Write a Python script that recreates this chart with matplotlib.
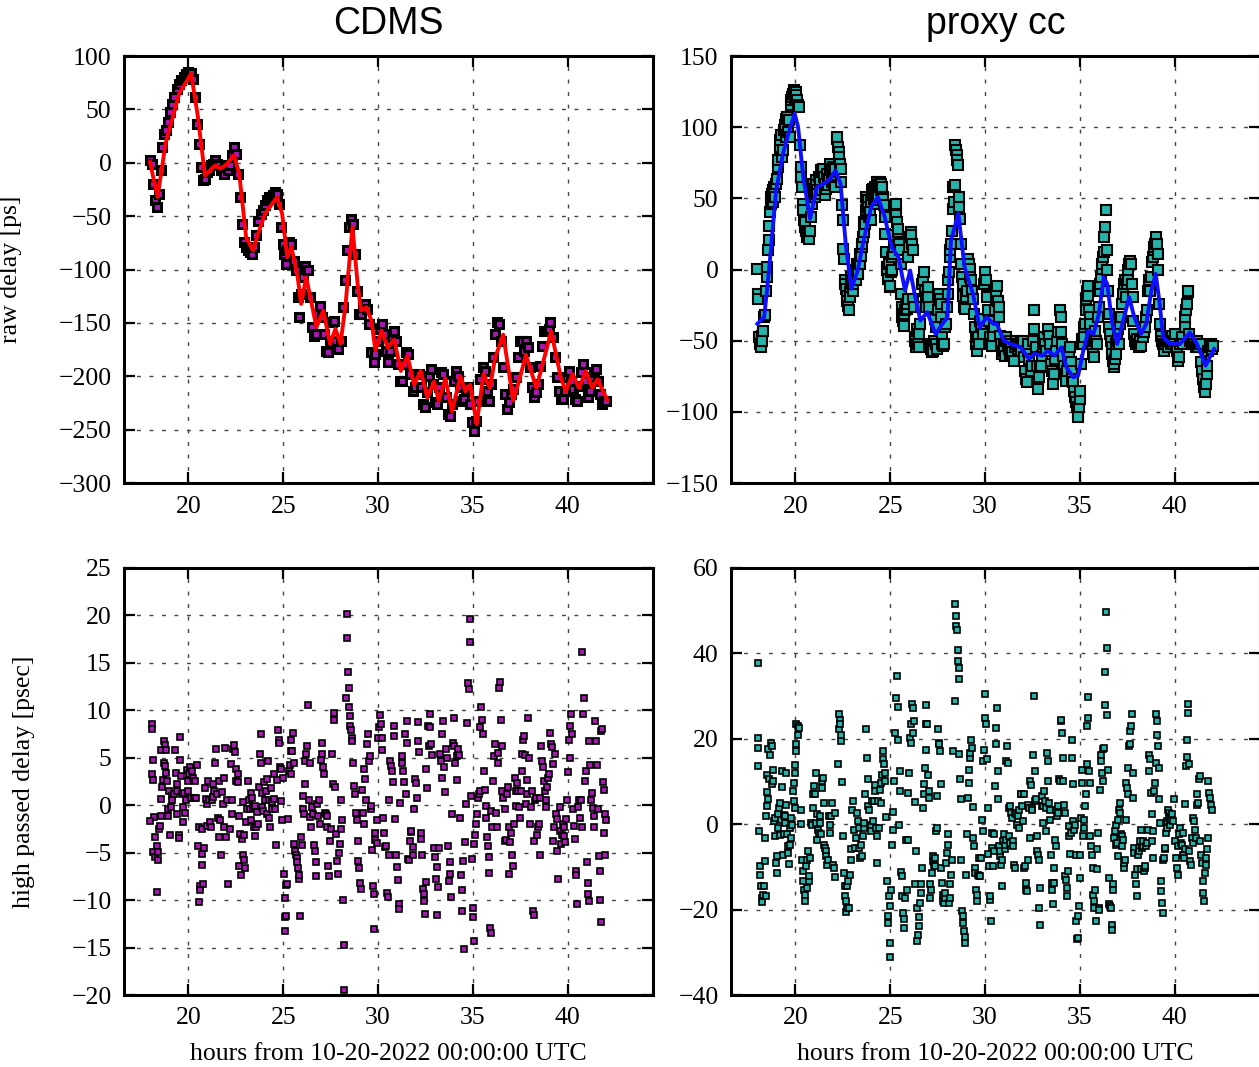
import numpy as np
import matplotlib
matplotlib.use('Agg')
import matplotlib.pyplot as plt

plt.rcParams['font.family'] = ['Liberation Serif', 'DejaVu Serif']
plt.rcParams['axes.unicode_minus'] = True

### data (hours, ps)
# CDMS raw delay samples
cdms_raw_pts = [
    (17.97, 2.2), (18.06, -0.9), (18.15, -19.7), (18.24, -35.3), (18.35, -41.6), (18.43, -29.1), (18.53, -7.2),
    (18.61, 14.7), (18.71, 27.2), (18.79, 30.3), (18.9, 38.1), (19.02, 47.5), (19.15, 55.3), (19.26, 61.6),
    (19.38, 69.4), (19.51, 74.1), (19.62, 77.2), (19.75, 80.3), (19.87, 82.8), (19.98, 85.0), (20.11, 84.1),
    (20.22, 78.8), (20.33, 61.6), (20.43, 36.6), (20.54, 17.8), (20.65, -4.1), (20.76, -16.6), (20.87, -15.0),
    (20.98, -8.8), (21.09, -7.2), (21.19, -2.5), (21.3, -0.9), (21.41, 2.2), (21.52, -0.9), (21.63, -2.5),
    (21.74, -7.2), (21.85, -10.3), (21.95, -4.1), (22.06, -7.2), (22.17, -2.5), (22.28, 6.9), (22.39, 14.7),
    (22.5, 8.4), (22.61, -10.3), (22.71, -32.2), (22.82, -57.2), (22.93, -74.4), (23.04, -79.1), (23.15, -82.2),
    (23.26, -83.8), (23.37, -85.3), (23.48, -79.1), (23.58, -68.1), (23.69, -54.1), (23.8, -47.8), (23.91, -44.7),
    (24.02, -40.0), (24.13, -35.3), (24.24, -32.2), (24.34, -32.2), (24.45, -30.6), (24.56, -27.5), (24.67, -29.1),
    (24.78, -38.4), (24.89, -60.3), (24.98, -75.9), (25.05, -85.3), (25.12, -94.7), (25.21, -82.2), (25.32, -74.4),
    (25.43, -75.9), (25.54, -91.6), (25.65, -100.9), (25.76, -125.9), (25.85, -144.7), (25.95, -122.8),
    (26.06, -107.2), (26.17, -96.3), (26.28, -100.9), (26.39, -125.9), (26.5, -154.1), (26.61, -161.9),
    (26.71, -160.3), (26.82, -141.6), (26.93, -133.8), (27.04, -144.7), (27.15, -160.3), (27.26, -175.9),
    (27.37, -177.5), (27.48, -166.6), (27.58, -149.4), (27.69, -147.8), (27.8, -166.6), (27.91, -174.4),
    (28.02, -166.6), (28.13, -135.3), (28.24, -110.3), (28.34, -82.2), (28.45, -60.3), (28.56, -52.5),
    (28.67, -57.2), (28.78, -85.3), (28.89, -119.7), (29.0, -141.6), (29.1, -141.6), (29.21, -135.3),
    (29.32, -132.2), (29.43, -136.9), (29.54, -150.9), (29.65, -177.5), (29.76, -186.9), (29.86, -179.1),
    (29.97, -166.6), (30.08, -155.6), (30.19, -150.9), (30.3, -160.3), (30.41, -175.9), (30.52, -186.9),
    (30.62, -175.9), (30.73, -163.4), (30.84, -157.2), (30.95, -166.6), (31.06, -188.4), (31.17, -204.1),
    (31.28, -204.1), (31.38, -188.4), (31.49, -177.5), (31.6, -179.1), (31.71, -197.8), (31.82, -213.4),
    (31.93, -210.3), (32.04, -197.8), (32.14, -197.8), (32.25, -210.3), (32.36, -225.9), (32.47, -229.1),
    (32.58, -215.0), (32.69, -199.4), (32.8, -193.1), (32.9, -207.2), (33.01, -224.4), (33.12, -225.9),
    (33.23, -210.3), (33.34, -196.3), (33.45, -197.8), (33.56, -219.7), (33.67, -235.3), (33.77, -236.9),
    (33.88, -225.9), (33.99, -204.1), (34.1, -194.7), (34.21, -199.4), (34.32, -210.3), (34.43, -222.8),
    (34.53, -221.3), (34.64, -211.9), (34.75, -210.3), (34.86, -225.9), (34.97, -243.1), (35.08, -250.9),
    (35.19, -241.6), (35.29, -222.8), (35.4, -202.5), (35.51, -191.6), (35.62, -194.7), (35.73, -213.4),
    (35.84, -222.8), (35.95, -207.2), (36.05, -182.2), (36.16, -160.3), (36.27, -149.4), (36.38, -150.9),
    (36.49, -166.6), (36.6, -191.6), (36.71, -216.6), (36.81, -230.6), (36.92, -224.4), (37.03, -216.6),
    (37.14, -211.9), (37.25, -200.9), (37.36, -182.2), (37.47, -166.6), (37.57, -166.6), (37.68, -175.9),
    (37.79, -166.6), (37.9, -172.8), (38.01, -191.6), (38.12, -210.3), (38.23, -219.7), (38.33, -215.0),
    (38.44, -207.2), (38.55, -190.0), (38.66, -171.3), (38.77, -157.2), (38.88, -157.2), (38.99, -155.6),
    (39.09, -149.4), (39.2, -163.4), (39.31, -182.2), (39.42, -200.9), (39.53, -213.4), (39.64, -221.3),
    (39.75, -221.3), (39.86, -213.4), (39.96, -200.9), (40.07, -194.7), (40.18, -204.1), (40.29, -211.9),
    (40.4, -221.3), (40.51, -222.8), (40.62, -208.8), (40.72, -196.3), (40.83, -188.4), (40.94, -204.1),
    (41.05, -219.7), (41.16, -213.4), (41.27, -200.9), (41.38, -196.3), (41.49, -193.1), (41.59, -204.1),
    (41.7, -216.6), (41.81, -225.9), (41.92, -222.8), (42.03, -222.8),
]

# CDMS smoothed (red) curve
cdms_fit_pts = [
    (17.97, 0.6), (18.37, -32.0), (18.79, 17.8), (19.51, 64.7), (20.14, 83.4), (20.5, 42.8), (20.87, -11.9),
    (21.41, -2.5), (21.68, -5.6), (21.95, -2.5), (22.4, 6.9), (22.68, -10.3), (23.04, -69.7), (23.4, -82.2),
    (23.67, -66.6), (24.04, -47.8), (24.67, -32.2), (24.94, -47.8), (25.21, -88.4), (25.43, -79.0),
    (25.76, -107.2), (25.94, -132.2), (26.21, -107.2), (26.75, -154.0), (27.11, -138.4), (27.47, -169.7),
    (27.75, -155.6), (28.02, -169.7), (28.29, -132.2), (28.38, -113.4), (28.65, -60.3), (28.92, -113.4),
    (29.1, -138.4), (29.38, -135.3), (29.65, -147.8), (29.86, -175.9), (30.19, -157.2), (30.5, -173.0),
    (30.85, -165.6), (31.2, -195.0), (31.55, -181.0), (31.9, -208.0), (32.25, -195.0), (32.6, -220.0),
    (32.95, -205.0), (33.2, -223.0), (33.55, -202.0), (33.9, -233.0), (34.34, -200.0), (34.6, -214.0),
    (34.86, -208.0), (35.2, -245.0), (35.56, -198.0), (35.9, -211.0), (36.17, -183.0), (36.6, -161.0),
    (37.13, -223.0), (37.47, -202.0), (37.8, -180.0), (38.35, -211.0), (39.13, -158.0), (39.65, -202.0),
    (39.9, -214.0), (40.26, -198.0), (40.6, -211.0), (40.96, -195.0), (41.3, -211.0), (41.57, -203.0),
    (42.09, -222.0),
]

# CDMS high passed delay
cdms_hp_pts = [
    (18.06, 8.6), (18.06, 8.0), (18.12, 4.8), (18.06, 3.3), (18.15, 2.7), (18.17, -1.2), (17.97, -1.7),
    (18.21, -3.4), (18.33, -4.3), (18.15, -4.9), (18.24, -5.5), (18.39, -5.8), (18.39, -4.9), (18.46, -2.5),
    (18.48, -2.2), (18.33, -9.1), (18.57, 0.7), (18.57, -1.1), (18.61, 1.9), (18.64, 2.7), (18.71, 6.8),
    (18.75, 6.3), (18.7, 4.5), (18.75, 4.1), (18.79, 3.4), (18.57, 5.8), (18.79, 5.8), (18.88, 2.6),
    (18.97, 1.5), (18.91, -0.4), (18.93, -1.1), (19.02, -3.1), (19.06, -0.2), (19.11, 1.0), (19.15, 0.5),
    (19.24, 1.2), (19.29, 5.8), (19.33, 3.4), (19.37, 2.2), (19.38, 1.5), (19.42, -0.9), (19.48, -3.1),
    (19.51, -3.5), (19.55, 7.2), (19.55, 4.8), (19.6, 3.1), (19.66, 1.2), (19.69, -0.2), (19.73, -1.8),
    (19.78, 1.3), (19.84, -0.8), (19.87, 0.6), (19.91, 3.7), (19.96, 1.5), (20.0, 2.6), (20.05, 3.3),
    (20.09, 4.0), (20.14, 0.8), (20.2, 3.6), (20.24, 2.9), (20.29, 0.8), (20.33, 2.6), (20.38, 0.8),
    (20.45, 4.2), (20.51, -4.3), (20.56, -2.3), (20.56, -10.2), (20.6, -8.5), (20.63, -8.9), (20.69, -2.5),
    (20.72, -6.3), (20.72, -5.1), (20.78, -8.3), (20.83, -4.5), (20.87, 1.8), (20.92, 0.7), (20.96, -2.2),
    (21.0, 0.1), (21.05, 2.6), (21.1, 0.6), (21.14, -1.8), (21.19, -2.3), (21.23, 0.5), (21.28, 0.9),
    (21.32, 2.2), (21.36, 1.5), (21.41, 4.5), (21.47, 5.9), (21.5, 1.2), (21.54, -1.3), (21.59, 2.6),
    (21.63, -3.4), (21.68, -1.6), (21.72, -5.2), (21.77, 1.4), (21.81, 0.1), (21.86, -2.3), (21.9, 2.9),
    (21.95, 6.0), (21.99, -3.3), (22.05, 0.5), (22.1, -8.3), (22.19, -2.5), (22.23, 4.3), (22.28, -0.9),
    (22.32, 0.5), (22.35, 5.9), (22.41, 6.3), (22.44, 5.6), (22.5, 3.8), (22.53, 2.6), (22.59, 3.3),
    (22.62, 2.5), (22.68, -1.1), (22.68, -6.4), (22.71, -3.0), (22.77, -7.4), (22.81, -3.6), (22.86, -5.2),
    (22.88, 0.3), (22.91, -5.8), (22.95, -3.1), (22.99, -6.6), (23.04, -1.8), (23.1, -0.4), (23.13, 2.6),
    (23.17, 0.5), (23.22, -0.4), (23.28, -1.6), (23.31, 1.3), (23.35, 0.8), (23.4, -0.2), (23.46, -2.3),
    (23.49, -3.2), (23.53, -0.1), (23.58, -2.3), (23.64, -0.7), (23.67, -2.0), (23.73, 1.9), (23.76, 5.4),
    (23.8, 7.5), (23.82, 4.4), (23.86, 1.3), (23.89, -0.2), (23.93, -0.6), (23.98, 2.4), (24.04, 0.5),
    (24.07, 1.5), (24.13, -0.9), (24.16, 2.8), (24.22, 4.7), (24.25, -1.3), (24.27, 0.5), (24.31, -2.3),
    (24.34, 1.8), (24.4, -0.4), (24.43, 0.3), (24.49, 3.3), (24.52, 0.7), (24.58, -0.4), (24.62, -4.2),
    (24.67, 2.7), (24.72, 7.9), (24.76, 6.9), (24.8, 6.6), (24.85, 4.0), (24.89, 3.8), (24.9, 0.4),
    (24.94, -1.6), (25.0, 2.9), (25.03, -7.3), (25.07, -9.8), (25.09, -11.8), (25.09, -13.3), (25.12, -11.7),
    (25.16, -8.4), (25.21, -8.3), (25.27, -1.5), (25.3, 3.6), (25.34, 4.2), (25.39, 5.7), (25.39, 6.9),
    (25.43, 3.3), (25.48, 5.7), (25.52, 7.6), (25.54, 4.5), (25.57, -4.1), (25.63, -4.8), (25.67, -5.2),
    (25.7, -5.6), (25.74, -6.0), (25.76, -6.6), (25.81, -7.8), (25.85, -7.4), (25.88, -11.7), (25.94, -3.3),
    (25.99, -4.2), (26.03, 1.0), (26.06, -0.4), (26.1, -0.9), (26.12, 4.7), (26.15, 2.2), (26.21, 5.4),
    (26.24, 6.2), (26.3, 10.6), (26.35, 0.5), (26.39, -1.2), (26.43, 4.5), (26.48, -2.3), (26.52, -0.2),
    (26.57, -0.9), (26.61, -4.2), (26.66, -4.8), (26.7, -6.0), (26.75, -7.5), (26.79, 0.1), (26.84, -1.1),
    (26.88, 0.5), (26.93, -2.0), (26.97, 4.8), (27.02, 6.6), (27.06, 5.4), (27.11, 4.0), (27.15, 3.3),
    (27.2, -0.8), (27.24, -0.9), (27.29, -2.3), (27.33, -1.1), (27.38, -6.4), (27.42, -7.5), (27.47, -3.8),
    (27.51, -2.5), (27.57, 5.4), (27.62, 2.2), (27.66, 9.7), (27.69, 9.0), (27.75, 1.9), (27.8, -3.0),
    (27.84, -5.9), (27.89, -7.3), (27.93, -5.0), (27.98, -4.1), (28.02, 0.5), (28.07, -2.5), (28.11, -1.6),
    (28.16, -10.0), (28.2, -14.7), (28.2, -19.5), (28.29, 11.3), (28.34, 20.2), (28.38, 17.6), (28.42, 14.0),
    (28.45, 12.4), (28.47, 10.3), (28.51, 9.4), (28.53, 8.3), (28.56, 7.9), (28.6, 7.1), (28.65, 6.8),
    (28.69, 4.4), (28.74, 2.0), (28.78, 1.2), (28.83, -0.8), (28.89, -1.6), (28.92, -3.8), (28.96, -5.9),
    (29.01, -6.6), (29.05, -8.2), (29.1, -8.8), (29.16, 1.6), (29.19, -0.8), (29.25, -2.0), (29.28, 3.8),
    (29.32, 2.8), (29.38, 0.5), (29.41, 6.4), (29.47, 7.5), (29.5, 4.7), (29.56, 5.2), (29.61, -0.4),
    (29.65, -0.1), (29.68, -4.7), (29.74, -8.5), (29.77, -9.4), (29.77, -13.0), (29.83, -2.9), (29.86, -3.7),
    (29.92, -4.0), (29.95, -1.6), (30.01, 7.1), (30.05, 8.2), (30.1, 9.5), (30.14, 8.6), (30.19, 5.8),
    (30.23, 7.1), (30.28, -1.3), (30.32, -2.9), (30.37, -4.4), (30.41, -4.3), (30.46, -9.2), (30.52, -9.7),
    (30.55, -5.2), (30.59, 0.5), (30.64, 4.7), (30.68, 4.1), (30.73, 3.6), (30.77, 2.4), (30.82, 8.3),
    (30.86, 7.3), (30.91, -1.5), (30.97, -5.2), (31.0, -6.5), (31.04, -7.9), (31.09, -10.4), (31.13, -10.9),
    (31.18, 0.2), (31.24, 5.2), (31.28, 4.5), (31.33, 3.6), (31.37, 2.5), (31.42, 7.5), (31.46, 1.2),
    (31.51, 8.9), (31.55, 6.6), (31.58, -5.7), (31.64, -5.8), (31.67, -3.8), (31.73, -2.8), (31.76, -2.7),
    (31.82, -4.4), (31.85, -5.2), (31.91, -0.4), (31.96, 2.8), (32.0, 2.3), (32.04, 0.8), (32.09, 6.8),
    (32.13, 8.8), (32.18, 5.6), (32.24, -2.9), (32.27, -3.6), (32.33, -5.2), (32.36, -8.8), (32.4, -9.4),
    (32.43, -10.1), (32.47, -11.5), (32.51, -8.1), (32.54, 3.8), (32.6, 1.8), (32.63, 8.4), (32.69, 6.2),
    (32.72, 8.2), (32.76, 9.6), (32.81, 6.4), (32.87, 5.3), (32.94, -4.5), (33.0, -5.5), (33.05, -7.8),
    (33.09, -11.6), (33.12, -6.5), (33.18, -8.6), (33.23, -4.5), (33.27, 5.4), (33.32, 4.7), (33.36, 7.5),
    (33.39, 2.9), (33.45, 8.9), (33.5, 4.0), (33.54, 1.4), (33.59, 5.9), (33.63, 5.0), (33.68, -4.3),
    (33.72, -8.0), (33.77, -7.3), (33.81, -6.0), (33.85, -9.7), (33.9, -0.9), (33.94, 6.6), (33.99, 9.2),
    (34.03, 6.2), (34.08, 4.5), (34.14, 5.2), (34.17, 2.7), (34.23, 5.9), (34.26, 5.3), (34.32, -1.3),
    (34.35, -7.4), (34.41, -8.9), (34.44, -11.2), (34.5, -5.9), (34.53, -15.1), (34.59, -3.9), (34.62, 0.1),
    (34.71, 8.7), (34.75, 12.9), (34.8, 12.2), (34.84, 19.6), (34.86, 17.2), (34.9, 1.0), (34.93, -5.7),
    (34.99, -10.8), (35.02, -11.8), (35.04, -14.3), (35.08, -4.1), (35.13, -3.1), (35.17, -2.0), (35.22, -0.9),
    (35.26, 0.8), (35.31, 1.2), (35.35, 1.5), (35.4, 8.2), (35.44, 10.3), (35.48, 9.0), (35.53, 7.5),
    (35.58, 3.6), (35.62, 1.6), (35.67, -0.1), (35.71, -1.3), (35.76, -3.4), (35.8, -4.3), (35.84, -5.5),
    (35.85, -7.1), (35.89, -12.9), (35.93, -13.5), (35.98, -0.6), (36.02, -2.3), (36.07, 2.6), (36.11, 5.2),
    (36.16, 6.4), (36.22, -0.8), (36.25, -2.3), (36.31, 4.5), (36.34, 5.5), (36.4, 12.4), (36.43, 13.0),
    (36.49, 9.0), (36.52, 6.2), (36.56, 1.5), (36.61, 0.8), (36.67, -0.4), (36.71, -3.8), (36.76, -3.7),
    (36.8, 1.2), (36.83, 1.9), (36.89, -2.3), (36.92, -7.3), (36.98, -3.9), (37.01, -2.9), (37.07, -5.2),
    (37.1, -6.4), (37.16, -2.0), (37.21, 2.9), (37.25, 1.5), (37.29, -0.1), (37.34, 2.3), (37.39, 1.5),
    (37.43, -0.2), (37.48, -1.3), (37.52, 1.5), (37.57, 3.6), (37.61, 5.4), (37.66, 6.9), (37.7, 7.3),
    (37.74, 5.3), (37.79, 0.1), (37.85, 1.2), (37.88, 2.7), (37.92, 9.2), (37.97, 5.0), (38.01, -2.0),
    (38.06, -0.2), (38.12, 1.5), (38.15, -11.1), (38.21, -11.6), (38.24, -3.8), (38.3, 0.5), (38.33, 0.8),
    (38.39, -3.1), (38.43, -2.3), (38.48, -2.0), (38.52, -5.2), (38.55, 0.8), (38.61, 6.2), (38.66, 4.7),
    (38.7, 4.0), (38.73, 2.6), (38.79, 1.5), (38.84, -0.2), (38.88, 0.5), (38.91, 1.9), (38.97, 2.9),
    (39.02, 3.3), (39.06, 7.6), (39.1, 6.4), (39.15, 6.1), (39.2, 4.3), (39.24, -3.8), (39.28, -2.3),
    (39.33, 5.4), (39.37, -0.9), (39.42, -1.5), (39.46, -4.8), (39.51, -7.8), (39.57, -0.2), (39.6, -2.7),
    (39.66, -4.1), (39.69, -3.1), (39.75, -2.0), (39.78, -3.2), (39.82, -2.3), (39.87, -3.9), (39.93, -1.5),
    (39.96, 0.6), (40.02, 3.5), (40.05, 6.9), (40.11, 8.3), (40.14, 5.0), (40.18, 9.6), (40.24, 7.5),
    (40.29, -0.4), (40.33, -2.2), (40.36, -3.6), (40.42, -6.9), (40.45, -7.4), (40.51, -10.4), (40.56, -0.2),
    (40.6, 0.5), (40.65, -1.3), (40.69, 0.5), (40.74, -2.3), (40.78, 16.1), (40.83, 9.6), (40.87, 11.3),
    (40.9, 2.6), (40.96, 3.6), (41.01, -6.0), (41.05, -8.2), (41.09, -9.4), (41.1, -10.1), (41.14, 6.8),
    (41.18, 4.2), (41.23, 0.5), (41.27, 1.3), (41.32, -0.3), (41.38, -1.1), (41.41, -2.3), (41.45, 8.9),
    (41.5, 6.8), (41.54, 4.2), (41.59, -0.4), (41.65, -5.3), (41.68, -6.9), (41.72, -10.0), (41.74, -12.3),
    (41.77, 7.8), (41.83, 8.0), (41.86, 2.5), (41.9, 1.6), (41.92, -2.9), (41.95, -0.9), (41.99, -5.2),
    (42.01, -1.6),
]

# proxy cc raw delay samples
proxy_raw_pts = [
    (17.99, 0.5), (18.03, -17.1), (18.05, -20.6), (18.08, -47.6), (18.14, -52.3), (18.17, -54.6), (18.21, -46.4),
    (18.26, -49.9), (18.3, -42.9), (18.35, -33.5), (18.41, -32.3), (18.44, -14.8), (18.48, -5.4), (18.51, 1.6),
    (18.55, 13.4), (18.59, 20.4), (18.62, 30.9), (18.66, 40.3), (18.69, 46.2), (18.73, 50.9), (18.77, 53.2),
    (18.8, 47.4), (18.84, 55.6), (18.89, 57.9), (18.94, 50.9), (18.98, 60.2), (19.02, 63.8), (19.07, 72.0),
    (19.1, 76.6), (19.16, 83.7), (19.21, 90.7), (19.25, 94.2), (19.3, 79.0), (19.34, 83.7), (19.37, 97.7),
    (19.43, 101.3), (19.48, 105.9), (19.52, 93.1), (19.55, 107.1), (19.61, 96.6), (19.66, 104.8), (19.7, 93.1),
    (19.75, 115.3), (19.79, 118.8), (19.84, 121.2), (19.87, 123.5), (19.93, 125.9), (19.96, 118.8),
    (20.02, 124.7), (20.05, 122.4), (20.09, 118.8), (20.14, 115.3), (20.2, 114.2), (20.23, 87.2), (20.27, 72.0),
    (20.3, 64.9), (20.34, 57.9), (20.38, 46.2), (20.41, 41.5), (20.45, 34.5), (20.48, 29.8), (20.52, 33.3),
    (20.56, 27.4), (20.59, 25.1), (20.63, 22.7), (20.68, 26.3), (20.73, 21.6), (20.77, 27.4), (20.81, 36.8),
    (20.86, 46.2), (20.91, 53.2), (20.95, 60.2), (20.98, 56.7), (21.02, 50.9), (21.06, 62.6), (21.09, 59.1),
    (21.13, 55.6), (21.16, 53.2), (21.22, 64.9), (21.27, 57.9), (21.31, 61.4), (21.36, 69.6), (21.4, 55.6),
    (21.45, 70.8), (21.49, 64.9), (21.54, 60.2), (21.58, 52.0), (21.63, 56.7), (21.67, 67.3), (21.72, 59.1),
    (21.75, 63.8), (21.81, 69.6), (21.84, 74.3), (21.9, 70.8), (21.93, 61.4), (21.99, 72.0), (22.02, 59.1),
    (22.06, 70.8), (22.11, 57.9), (22.17, 91.9), (22.2, 93.1), (22.24, 86.0), (22.27, 82.5), (22.31, 79.0),
    (22.34, 74.3), (22.38, 70.8), (22.42, 61.4), (22.45, 45.0), (22.49, 34.5), (22.52, 14.5), (22.56, 7.5),
    (22.6, -7.7), (22.63, -10.1), (22.67, -13.6), (22.7, -18.3), (22.74, -21.8), (22.77, -25.3), (22.81, -28.8),
    (22.85, -15.9), (22.88, -19.5), (22.92, -10.1), (22.95, -5.4), (22.99, -7.7), (23.03, -14.8), (23.06, -10.1),
    (23.1, -5.4), (23.13, -0.7), (23.17, -7.7), (23.21, -0.7), (23.24, 4.0), (23.28, 0.5), (23.31, -3.0),
    (23.35, 4.0), (23.38, 11.0), (23.42, 4.0), (23.46, 9.8), (23.49, 15.7), (23.53, 18.0), (23.56, 22.7),
    (23.6, 26.3), (23.63, 33.3), (23.67, 32.1), (23.71, 41.5), (23.74, 50.9), (23.78, 46.2), (23.81, 48.5),
    (23.85, 43.8), (23.89, 36.8), (23.92, 40.3), (23.96, 34.5), (23.99, 47.4), (24.03, 55.6), (24.06, 52.0),
    (24.1, 56.7), (24.14, 49.7), (24.17, 46.2), (24.21, 57.9), (24.24, 48.5), (24.28, 55.6), (24.31, 61.4),
    (24.35, 50.9), (24.39, 59.1), (24.44, 61.4), (24.49, 55.6), (24.53, 60.2), (24.56, 57.9), (24.6, 50.9),
    (24.64, 49.7), (24.67, 45.0), (24.71, 36.8), (24.74, 25.1), (24.78, 12.2), (24.82, 1.6), (24.85, -0.7),
    (24.89, -6.6), (24.92, 4.0), (24.96, -12.4), (25.0, -11.3), (25.03, -1.9), (25.07, 8.7), (25.11, -0.7),
    (25.14, 11.0), (25.18, 15.7), (25.21, 23.9), (25.25, 43.8), (25.29, 46.2), (25.32, 38.0), (25.36, 33.3),
    (25.39, 26.3), (25.43, 28.6), (25.46, 18.0), (25.5, 13.4), (25.54, 4.0), (25.57, -17.1), (25.61, -26.5),
    (25.64, -33.5), (25.68, -35.9), (25.71, -39.4), (25.75, -31.2), (25.78, -28.8), (25.82, -25.3),
    (25.86, -27.7), (25.89, -24.1), (25.93, -20.6), (25.96, 8.7), (26.0, 15.7), (26.04, 22.7), (26.07, 26.3),
    (26.11, 23.9), (26.14, 18.0), (26.18, 13.4), (26.21, -20.6), (26.25, -26.5), (26.29, -47.6), (26.32, -49.9),
    (26.36, -54.6), (26.39, -52.3), (26.43, -41.7), (26.46, -52.3), (26.5, -45.2), (26.54, -54.6),
    (26.59, -38.2), (26.64, -26.5), (26.68, -10.1), (26.73, -7.7), (26.79, -1.9), (26.82, -14.8), (26.86, -19.5),
    (26.91, -26.5), (26.97, -19.5), (27.0, -12.4), (27.04, -26.5), (27.07, -52.3), (27.13, -55.8), (27.18, -58.1),
    (27.22, -53.4), (27.25, -57.0), (27.3, -49.9), (27.36, -34.7), (27.39, -40.6), (27.43, -52.3), (27.48, -55.8),
    (27.54, -28.8), (27.57, -17.1), (27.61, -20.6), (27.65, -24.1), (27.68, -33.5), (27.72, -47.6),
    (27.75, -52.3), (27.79, -53.4), (27.84, -52.3), (27.9, -40.6), (27.93, -38.2), (27.97, -26.5), (28.02, -17.1),
    (28.06, -7.7), (28.1, -1.9), (28.13, 8.7), (28.17, 13.4), (28.2, 18.0), (28.24, 27.4), (28.29, 57.9),
    (28.33, 42.7), (28.37, 47.4), (28.4, 59.1), (28.43, 87.2), (28.47, 83.7), (28.51, 80.2), (28.54, 76.6),
    (28.58, 73.1), (28.61, 50.9), (28.65, 43.8), (28.68, 35.6), (28.72, 18.0), (28.75, 4.0), (28.79, -5.4),
    (28.83, -10.1), (28.86, -18.3), (28.9, -26.5), (28.93, -27.7), (28.97, -19.5), (29.04, -14.8), (29.09, 7.5),
    (29.15, 4.0), (29.18, 0.5), (29.22, -5.4), (29.27, -7.7), (29.33, -14.8), (29.36, -20.6), (29.41, -31.2),
    (29.45, -40.6), (29.51, -47.6), (29.54, -52.3), (29.58, -57.0), (29.63, -47.6), (29.68, -52.3),
    (29.75, -35.9), (29.81, -40.6), (29.87, -45.2), (29.9, -34.7), (29.96, -10.1), (30.01, -1.9), (30.04, -7.7),
    (30.08, -18.3), (30.12, -19.5), (30.17, -28.8), (30.22, -35.9), (30.26, -47.6), (30.3, -52.3), (30.35, -53.4),
    (30.4, -42.9), (30.44, -46.4), (30.49, -40.6), (30.53, -28.8), (30.56, -20.6), (30.6, -14.8), (30.64, -11.3),
    (30.67, -21.8), (30.71, -26.5), (30.74, -33.5), (30.8, -46.4), (30.85, -52.3), (30.89, -59.3), (30.94, -57.0),
    (30.98, -53.4), (31.03, -60.5), (31.08, -49.9), (31.13, -47.6), (31.19, -52.3), (31.24, -55.8),
    (31.3, -59.3), (31.33, -49.9), (31.39, -52.3), (31.44, -58.1), (31.51, -64.0), (31.57, -54.6), (31.62, -49.9),
    (31.69, -52.3), (31.75, -55.8), (31.8, -53.4), (31.87, -51.1), (31.92, -57.0), (31.98, -49.9), (32.03, -61.6),
    (32.09, -71.0), (32.14, -76.9), (32.19, -79.2), (32.24, -57.0), (32.28, -52.3), (32.34, -62.8), (32.41, -71.0),
    (32.46, -67.5), (32.52, -49.9), (32.57, -28.8), (32.6, -41.7), (32.66, -54.6), (32.72, -67.5), (32.77, -78.1),
    (32.8, -83.9), (32.86, -75.7), (32.91, -68.7), (32.95, -67.5), (33.0, -60.5), (33.06, -54.6), (33.12, -47.6),
    (33.18, -52.3), (33.23, -57.0), (33.3, -41.7), (33.36, -46.4), (33.41, -52.3), (33.48, -66.3), (33.54, -71.0),
    (33.59, -80.4), (33.64, -73.4), (33.7, -62.8), (33.75, -57.0), (33.8, -49.9), (33.86, -44.1), (33.93, -28.8),
    (33.98, -33.5), (34.02, -44.1), (34.06, -52.3), (34.11, -60.5), (34.16, -67.5), (34.2, -73.4), (34.25, -78.1),
    (34.31, -71.0), (34.36, -64.0), (34.41, -58.1), (34.47, -54.6), (34.52, -65.2), (34.56, -71.0), (34.59, -76.9),
    (34.65, -79.2), (34.7, -85.1), (34.74, -89.8), (34.79, -93.3), (34.84, -96.8), (34.88, -101.5),
    (34.91, -103.8), (34.95, -96.8), (34.99, -90.9), (35.02, -85.1), (35.06, -66.3), (35.09, -52.3),
    (35.13, -48.8), (35.17, -52.3), (35.2, -47.6), (35.24, -40.6), (35.27, -38.2), (35.31, -28.8), (35.34, -20.6),
    (35.38, -14.8), (35.42, -11.3), (35.45, -18.3), (35.49, -28.8), (35.52, -33.5), (35.56, -38.2), (35.59, -45.2),
    (35.63, -52.3), (35.68, -59.3), (35.72, -61.6), (35.77, -49.9), (35.81, -42.9), (35.86, -49.9), (35.92, -52.3),
    (35.95, -33.5), (36.0, -26.5), (36.04, -14.8), (36.08, -10.1), (36.11, -5.4), (36.15, 0.5), (36.19, 4.0),
    (36.22, 8.7), (36.26, 12.2), (36.29, 22.7), (36.33, 29.8), (36.37, 41.5), (36.42, 13.4), (36.45, -0.7),
    (36.49, -14.8), (36.53, -31.2), (36.56, -40.6), (36.6, -45.2), (36.63, -49.9), (36.67, -54.6), (36.71, -59.3),
    (36.74, -64.0), (36.78, -68.7), (36.81, -66.3), (36.85, -62.8), (36.88, -59.3), (36.92, -52.3),
    (36.96, -49.9), (37.01, -41.7), (37.06, -52.3), (37.12, -38.2), (37.17, -33.5), (37.24, -24.1), (37.3, -17.1),
    (37.35, -10.1), (37.38, -7.7), (37.44, -19.5), (37.49, -10.1), (37.53, -7.7), (37.56, -0.7), (37.6, 4.0),
    (37.63, 6.3), (37.69, 4.0), (37.73, -10.1), (37.78, -19.5), (37.82, -35.9), (37.87, -45.2), (37.92, -49.9),
    (37.98, -52.3), (38.03, -48.8), (38.08, -52.3), (38.14, -54.6), (38.19, -49.9), (38.24, -53.4),
    (38.31, -47.6), (38.37, -44.1), (38.42, -40.6), (38.5, -33.5), (38.55, -28.8), (38.6, -14.8), (38.64, -10.1),
    (38.67, -7.7), (38.71, -14.8), (38.76, -5.4), (38.82, 5.2), (38.85, 8.7), (38.89, 13.4), (38.92, 15.7),
    (38.96, 18.0), (39.0, 21.6), (39.03, 22.7), (39.07, 18.0), (39.1, 11.0), (39.14, -0.7), (39.18, -24.1),
    (39.21, -38.2), (39.27, -46.4), (39.32, -49.9), (39.39, -52.3), (39.45, -57.0), (39.5, -52.3), (39.57, -49.9),
    (39.63, -54.6), (39.68, -49.9), (39.75, -47.6), (39.8, -52.3), (39.86, -46.4), (39.93, -52.3), (39.98, -49.9),
    (40.04, -45.2), (40.09, -54.6), (40.14, -57.0), (40.19, -64.0), (40.25, -61.6), (40.3, -52.3), (40.36, -49.9),
    (40.41, -47.6), (40.46, -52.3), (40.52, -40.6), (40.57, -33.5), (40.61, -28.8), (40.64, -24.1), (40.68, -15.9),
    (40.71, -14.8), (40.75, -45.2), (40.82, -49.9), (40.89, -52.3), (40.96, -49.9), (41.03, -52.3), (41.1, -54.6),
    (41.18, -49.9), (41.25, -54.6), (41.32, -52.3), (41.4, -65.2), (41.45, -71.0), (41.5, -76.9), (41.54, -82.7),
    (41.59, -86.3), (41.64, -80.4), (41.68, -73.4), (41.71, -67.5), (41.77, -57.0), (41.84, -54.6), (41.89, -52.3),
    (41.96, -55.8), (42.04, -53.4),
]

# proxy cc smoothed (blue) curve
proxy_fit_pts = [
    (17.99, -38.2), (18.35, -33.5), (18.62, 1.6), (18.98, 55.6), (19.34, 81.3), (19.7, 98.9), (19.96, 109.5),
    (20.14, 100.1), (20.41, 64.9), (20.77, 35.6), (21.13, 57.9), (21.49, 60.2), (21.84, 63.8), (22.11, 69.6),
    (22.38, 60.2), (22.65, 18.0), (22.95, -13.6), (23.28, -0.7), (23.63, 22.7), (23.99, 43.8), (24.35, 50.9),
    (24.71, 36.8), (25.07, 15.7), (25.43, 8.7), (25.78, -14.8), (26.05, -0.7), (26.32, -19.5), (26.59, -35.9),
    (26.95, -30.0), (27.39, -45.3), (27.75, -38.2), (28.02, -33.5), (28.2, 20.4), (28.59, 39.1), (28.92, 1.6),
    (29.36, -17.1), (29.72, -40.6), (30.08, -33.5), (30.44, -38.2), (30.62, -38.2), (30.98, -49.9),
    (31.33, -52.3), (31.87, -54.6), (32.32, -62.8), (32.59, -59.3), (33.03, -60.5), (33.3, -57.0), (33.66, -60.5),
    (34.02, -54.6), (34.29, -68.7), (34.65, -75.7), (34.91, -74.5), (35.18, -57.0), (35.45, -42.9),
    (35.72, -45.2), (36.0, -31.2), (36.26, -5.4), (36.44, -10.1), (36.71, -38.2), (36.97, -52.3), (37.24, -38.2),
    (37.6, -19.5), (37.87, -33.5), (38.23, -45.2), (38.5, -38.2), (38.77, -14.8), (39.0, -3.0), (39.21, -24.1),
    (39.39, -47.6), (39.75, -52.3), (40.29, -52.3), (40.79, -44.1), (41.18, -52.3), (41.63, -67.5),
    (42.08, -55.8),
]

# proxy cc high passed delay
proxy_hp_pts = [
    (18.0, 37.8), (18.05, 20.2), (18.05, 17.9), (18.05, 13.6), (18.08, -1.5), (18.14, -9.8), (18.14, -11.8),
    (18.17, -14.5), (18.21, -17.3), (18.26, -18.2), (18.3, -16.5), (18.35, -14.5), (18.39, -8.7), (18.41, -3.2),
    (18.44, -16.9), (18.46, 1.9), (18.48, 4.2), (18.52, 11.6), (18.52, 7.6), (18.55, 6.0), (18.57, 17.5),
    (18.62, 10.5), (18.66, 16.1), (18.71, 19.1), (18.75, 18.3), (18.77, 9.3), (18.8, 12.8), (18.84, 10.1),
    (18.89, 0.7), (18.93, -2.8), (18.94, 1.5), (18.98, -9.1), (19.02, -11.4), (19.03, -7.5), (19.07, -0.9),
    (19.1, 2.3), (19.12, 3.8), (19.16, 5.0), (19.21, -2.6), (19.25, 1.1), (19.28, 12.4), (19.3, 8.7),
    (19.34, -7.1), (19.37, 2.1), (19.41, -2.4), (19.43, 0.3), (19.46, 1.9), (19.5, 4.6), (19.52, 12.0),
    (19.55, -2.4), (19.59, -6.7), (19.62, -5.2), (19.66, -9.3), (19.7, -4.9), (19.73, -0.9), (19.75, 1.5),
    (19.79, -3.2), (19.82, -0.1), (19.87, 7.7), (19.91, 5.4), (19.93, 9.7), (19.96, 11.9), (19.98, 13.8),
    (20.02, 17.1), (20.04, 18.7), (20.05, 23.5), (20.11, 23.0), (20.14, 20.9), (20.2, 22.6), (19.96, 3.8),
    (20.27, 3.4), (20.29, 0.1), (20.32, -8.5), (20.38, -10.9), (20.41, -13.4), (20.45, -15.3), (20.48, -16.5),
    (20.52, -18.0), (20.56, -9.8), (20.59, -8.3), (20.63, -14.9), (20.66, -6.3), (20.7, -13.4), (20.73, -12.2),
    (20.77, -7.9), (20.81, 0.3), (20.86, -0.1), (20.91, 7.0), (20.95, 3.8), (20.98, 8.9), (21.02, 7.0),
    (21.06, 11.9), (21.09, 0.3), (21.13, -3.6), (21.16, 2.3), (21.2, -1.3), (21.24, -2.0), (21.27, 0.3),
    (21.31, 1.9), (21.34, -2.4), (21.38, 8.5), (21.41, 10.1), (21.45, 10.9), (21.49, 5.0), (21.52, -4.8),
    (21.56, -5.5), (21.59, -6.3), (21.63, -7.5), (21.66, -9.5), (21.7, -8.3), (21.75, 1.9), (21.81, -0.1),
    (21.84, -2.0), (21.88, 1.9), (21.93, 5.0), (21.99, -9.5), (22.02, -10.2), (22.08, -12.4), (22.11, 2.7),
    (22.24, 14.1), (22.29, 22.2), (22.29, 25.7), (22.33, 24.5), (22.35, 23.4), (22.38, 21.0), (22.42, 19.5),
    (22.47, 9.8), (22.52, -2.8), (22.56, -11.4), (22.6, -14.5), (22.63, -16.9), (22.65, -18.0), (22.68, -20.5),
    (22.7, -19.6), (22.74, -14.5), (22.77, -13.4), (22.83, -19.6), (22.88, -11.8), (22.92, -8.3), (22.95, -5.9),
    (23.0, 3.4), (23.06, 5.4), (23.1, -1.3), (23.15, -5.5), (23.19, -3.2), (23.24, 2.7), (23.28, 0.7),
    (23.33, -0.9), (23.37, -5.5), (23.42, -7.9), (23.46, -4.8), (23.49, -7.5), (23.55, -2.8), (23.6, -0.9),
    (23.63, 0.3), (23.67, 7.0), (23.72, 22.4), (23.78, 15.5), (23.81, 4.2), (23.85, 10.5), (23.9, 3.4),
    (23.96, -0.1), (23.99, -1.5), (24.03, 5.4), (24.08, 0.7), (24.14, 5.4), (24.17, 9.1), (24.21, 7.7),
    (24.24, -0.9), (24.28, -9.1), (24.31, -2.8), (24.35, 5.4), (24.39, -0.9), (24.44, 8.1), (24.49, 5.0),
    (24.53, 9.7), (24.56, 11.6), (24.6, 17.1), (24.64, 15.2), (24.67, 14.0), (24.71, 12.0), (24.74, 10.1),
    (24.8, 1.6), (24.83, -13.4), (24.87, -21.6), (24.89, -23.1), (24.94, -16.9), (24.98, -27.8), (24.98, -31.2),
    (25.01, -19.2), (25.05, -15.3), (25.09, -4.8), (25.12, -1.3), (25.16, 2.9), (25.19, 10.2), (25.25, 21.4),
    (25.3, 29.6), (25.34, 34.8), (25.39, 27.5), (25.43, 19.8), (25.46, -0.1), (25.5, 12.4), (25.52, 7.7),
    (25.57, -11.2), (25.6, -12.2), (25.64, -16.9), (25.68, -20.8), (25.71, -22.3), (25.75, -24.3),
    (25.78, -17.3), (25.82, -3.6), (25.87, -15.3), (25.91, -3.6), (25.96, 7.3), (26.0, 12.0), (26.04, 20.2),
    (26.07, 19.1), (26.11, 23.4), (26.14, 28.2), (26.18, 27.3), (26.21, 21.4), (26.25, 24.1), (26.29, 5.2),
    (26.32, -14.0), (26.36, -6.3), (26.39, -19.6), (26.43, -27.4), (26.46, -25.9), (26.5, -23.9), (26.54, -21.8),
    (26.57, -18.4), (26.61, -16.1), (26.64, -14.1), (26.68, -10.2), (26.73, 3.8), (26.77, 7.0), (26.8, 9.3),
    (26.84, 13.2), (26.86, 17.3), (26.88, 27.9), (26.91, 23.4), (26.95, 23.4), (26.98, 11.6), (27.02, 6.2),
    (27.05, 7.7), (27.09, -14.1), (27.12, -17.3), (27.16, -15.3), (27.2, -11.4), (27.23, -8.7), (27.27, -7.5),
    (27.3, -9.5), (27.34, -7.9), (27.38, -9.8), (27.41, -1.6), (27.45, -0.9), (27.48, 6.6), (27.52, 22.2),
    (27.55, 19.1), (27.59, 18.7), (27.63, 17.1), (27.66, 9.5), (27.7, -10.2), (27.73, -13.7), (27.77, -16.5),
    (27.8, -18.0), (27.84, -18.4), (27.88, -17.4), (27.91, -16.1), (27.95, -9.1), (27.98, -6.7), (28.02, -4.8),
    (28.06, -2.4), (28.09, -18.4), (28.13, -17.3), (28.16, -14.0), (28.2, -11.8), (28.23, -8.3), (28.29, 17.1),
    (28.41, 28.8), (28.43, 51.5), (28.45, 48.7), (28.48, 46.4), (28.52, 45.4), (28.56, 40.9), (28.59, 38.2),
    (28.61, 36.6), (28.63, 34.1), (28.64, 16.5), (28.68, 10.5), (28.72, 5.8), (28.75, -8.5), (28.79, -20.4),
    (28.83, -21.6), (28.86, -23.1), (28.9, -25.1), (28.93, -26.5), (28.95, -27.8), (29.0, -11.8), (29.04, -2.4),
    (29.09, 6.2), (29.13, 9.7), (29.16, 12.8), (29.2, 15.5), (29.23, 16.7), (29.27, 19.8), (29.3, 17.9),
    (29.34, 4.0), (29.38, -3.2), (29.41, -5.2), (29.45, -10.2), (29.48, -11.4), (29.52, -15.3), (29.56, -18.0),
    (29.59, -16.5), (29.63, -11.8), (29.66, -12.2), (29.7, -7.9), (29.75, -12.2), (29.81, -7.9), (29.84, 1.1),
    (29.88, -1.6), (29.91, 14.8), (29.95, 17.3), (29.99, 24.9), (30.02, 30.5), (30.06, 23.4), (30.09, 15.2),
    (30.13, 3.8), (30.17, -7.0), (30.2, -9.8), (30.24, -17.7), (30.27, -16.7), (30.31, -22.7), (30.34, -2.0),
    (30.38, -5.5), (30.41, -9.8), (30.45, -6.3), (30.49, -2.3), (30.52, 8.9), (30.56, 18.7), (30.59, 22.6),
    (30.63, 27.3), (30.66, 12.4), (30.7, 5.8), (30.74, -5.2), (30.77, -7.5), (30.81, -6.3), (30.84, -9.5),
    (30.88, -14.5), (30.91, -8.3), (30.95, -4.0), (30.99, -2.4), (31.03, -5.9), (31.06, -4.8), (31.1, -3.6),
    (31.13, 14.8), (31.17, 18.3), (31.2, 14.4), (31.24, 3.8), (31.27, -2.8), (31.31, -4.4), (31.34, 4.2),
    (31.38, 2.7), (31.41, 1.5), (31.45, -4.0), (31.49, -5.2), (31.52, -9.5), (31.56, -10.2), (31.6, 2.7),
    (31.65, 2.3), (31.69, -0.1), (31.74, 1.9), (31.78, -0.9), (31.81, 3.4), (31.87, 7.1), (31.91, 7.0),
    (31.96, 4.2), (32.0, 0.7), (32.03, 7.0), (32.07, -10.2), (32.1, -9.8), (32.14, -13.7), (32.17, -15.3),
    (32.21, -15.7), (32.24, -8.3), (32.28, 4.6), (32.31, 3.8), (32.35, -3.2), (32.38, 10.1), (32.42, 9.1),
    (32.46, 3.8), (32.49, 3.4), (32.54, 16.3), (32.58, 30.0), (32.61, 12.4), (32.65, 5.4), (32.69, 5.8),
    (32.72, -2.8), (32.76, -6.3), (32.79, -7.1), (32.83, -8.3), (32.87, -19.6), (32.91, -23.5), (32.92, -14.9),
    (32.98, 4.2), (33.01, 6.6), (33.05, 0.3), (33.08, 4.2), (33.12, 7.7), (33.15, 5.4), (33.19, -1.6),
    (33.22, 3.8), (33.27, 16.7), (33.3, 14.8), (33.34, 10.1), (33.37, 5.0), (33.41, 3.4), (33.45, 1.1),
    (33.48, -7.1), (33.52, -13.7), (33.55, -15.3), (33.59, -18.8), (33.63, -13.7), (33.66, -10.2), (33.7, -3.6),
    (33.73, -5.2), (33.76, 3.4), (33.8, 1.9), (33.84, 2.7), (33.87, 4.2), (33.91, 10.5), (33.94, 10.1),
    (33.98, 24.1), (34.01, 24.5), (34.05, 21.4), (34.09, 15.5), (34.12, 10.1), (34.16, 4.6), (34.2, 2.7),
    (34.23, -12.2), (34.27, -13.0), (34.3, -14.9), (34.34, -16.9), (34.38, -11.0), (34.41, -0.5), (34.45, -2.8),
    (34.48, -7.0), (34.52, -2.0), (34.56, 19.8), (34.59, 15.5), (34.63, 9.3), (34.66, 0.7), (34.7, -1.3),
    (34.74, -0.1), (34.77, -7.1), (34.81, -22.7), (34.84, -27.0), (34.88, -26.6), (34.91, -21.6), (34.95, -19.2),
    (34.99, -12.6), (35.02, -7.1), (35.06, 1.5), (35.1, 9.7), (35.13, 12.8), (35.17, -2.8), (35.2, -0.9),
    (35.24, 1.1), (35.28, 4.2), (35.31, 7.0), (35.35, 14.0), (35.38, 23.0), (35.42, 24.9), (35.45, 29.8),
    (35.49, 12.4), (35.53, 9.7), (35.56, -2.8), (35.6, -5.2), (35.63, -7.1), (35.67, -10.2), (35.7, -16.5),
    (35.74, -18.0), (35.77, -19.6), (35.81, -15.3), (35.85, -22.7), (35.88, -10.6), (35.92, -5.9), (35.95, -2.0),
    (35.99, -19.6), (36.02, -20.0), (36.06, 8.1), (36.1, 16.3), (36.13, 14.8), (36.17, 12.0), (36.2, 10.1),
    (36.24, 17.5), (36.28, 17.9), (36.31, 27.9), (36.35, 35.7), (36.38, 49.8), (36.42, 41.2), (36.45, 25.5),
    (36.49, 12.8), (36.52, -12.6), (36.56, -18.8), (36.6, -19.2), (36.63, -19.6), (36.67, -23.5), (36.7, -24.7),
    (36.74, -14.1), (36.77, -15.3), (36.81, -3.2), (36.85, -1.6), (36.88, -0.1), (36.92, -4.8), (36.95, -4.4),
    (36.99, -7.5), (37.03, 1.1), (37.06, 3.4), (37.1, 5.0), (37.13, 2.7), (37.17, -2.4), (37.2, -5.2),
    (37.24, -2.8), (37.28, -3.6), (37.31, -10.2), (37.35, -9.1), (37.38, -8.3), (37.42, 1.1), (37.45, 9.7),
    (37.49, 8.5), (37.53, 13.2), (37.56, 7.0), (37.6, 18.3), (37.63, 18.7), (37.67, 21.8), (37.71, 23.0),
    (37.74, 25.7), (37.78, 12.0), (37.81, 6.2), (37.85, -5.5), (37.88, -6.7), (37.92, -11.8), (37.96, -14.1),
    (37.99, -16.9), (38.03, -10.6), (38.06, -7.1), (38.1, -5.5), (38.13, -6.3), (38.17, -4.0), (38.21, -1.3),
    (38.24, -10.6), (38.28, -5.5), (38.31, -5.2), (38.35, -4.0), (38.38, -11.0), (38.42, -10.2), (38.46, -9.8),
    (38.49, -5.2), (38.53, -4.4), (38.58, -1.3), (38.64, 16.3), (38.67, 12.4), (38.71, 15.3), (38.74, 7.3),
    (38.78, -4.0), (38.81, 2.3), (38.85, -7.9), (38.88, -1.6), (38.92, 7.7), (38.96, 9.7), (38.99, 14.4),
    (39.03, 25.7), (39.06, 24.1), (39.08, 20.9), (39.11, 18.3), (39.15, 13.2), (39.19, 5.8), (39.22, 0.3),
    (39.26, -13.4), (39.29, -15.7), (39.33, -18.4), (39.36, -20.8), (39.4, -8.3), (39.44, -7.9), (39.47, -5.9),
    (39.51, -5.5), (39.54, -2.0), (39.58, -0.9), (39.61, 0.7), (39.65, 3.4), (39.69, 2.7), (39.72, 1.5),
    (39.76, -0.1), (39.79, 1.9), (39.83, 1.1), (39.87, 2.3), (39.92, 0.7), (39.98, 5.8), (40.03, -4.0),
    (40.06, -7.9), (40.1, -10.2), (40.15, -11.8), (40.19, -5.2), (40.24, -2.4), (40.29, -0.9), (40.34, -4.4),
    (40.36, -4.8), (40.42, -2.0), (40.45, -7.1), (40.49, -7.9), (40.54, -5.9), (40.57, 4.8), (40.61, 13.6),
    (40.63, 15.7), (40.64, 19.7), (40.68, 26.1), (40.7, 28.2), (40.73, 14.0), (40.76, -6.3), (40.8, -8.7),
    (40.86, -9.5), (40.89, -3.2), (40.95, -4.4), (40.99, 1.5), (41.04, 0.7), (41.08, -1.3), (41.13, -3.2),
    (41.16, 4.6), (41.2, 7.0), (41.25, 5.0), (41.3, 10.5), (41.32, 11.3), (41.36, -4.0), (41.39, -7.1),
    (41.45, -9.1), (41.48, -13.4), (41.52, -16.1), (41.55, -18.0), (41.59, -11.4), (41.63, -9.5), (41.66, -7.9),
    (41.7, -5.9), (41.74, -3.2), (41.77, 10.1), (41.83, 7.3), (41.86, 6.2), (41.91, 4.6), (41.95, 3.4),
]

hour_ticks = [20, 25, 30, 35, 40]
x_range = (16.6, 44.5)
purple = '#a51aaf'
teal = '#26b3aa'
xlabel_text = 'hours from 10-20-2022 00:00:00 UTC'


def style_axes(ax, ylim, yticks):
    ax.set_xlim(*x_range)
    ax.set_ylim(*ylim)
    ax.set_xticks(hour_ticks)
    ax.set_yticks(yticks)
    ax.tick_params(direction='in', length=8, width=1.6, top=True, right=True,
                   labelsize=18.5, pad=9)
    for sp in ax.spines.values():
        sp.set_linewidth(2.2)
    ax.grid(True, color='#444444', linestyle=(0, (2.8, 6.2)), linewidth=1.0)
    ax.set_axisbelow(True)


fig = plt.figure(figsize=(12.59, 10.67), dpi=100)
W, H = 1259.0, 1067.0
ax_w, ax_h = 529 / W, 427 / H
ax1 = fig.add_axes([124 / W, 1 - 483 / H, ax_w, ax_h])
ax2 = fig.add_axes([731 / W, 1 - 483 / H, ax_w, ax_h])
ax3 = fig.add_axes([124 / W, 1 - 995 / H, ax_w, ax_h])
ax4 = fig.add_axes([731 / W, 1 - 995 / H, ax_w, ax_h])

title_font = ['Liberation Sans Narrow', 'Liberation Sans', 'DejaVu Sans']

# top left: CDMS raw
x, y = np.array(cdms_raw_pts).T
ax1.plot(x, y, 's', ms=6.4, mfc=purple, mec='black', mew=2.2, zorder=3)
x, y = np.array(cdms_fit_pts).T
ax1.plot(x, y, '-', color='#ff0000', lw=2.8, zorder=4)
style_axes(ax1, (-300, 100), np.arange(-300, 101, 50))
ax1.set_ylabel('raw delay [ps]', fontsize=18.5)
ax1.yaxis.set_label_coords(-0.193, 0.5)
ax1.text(0.5, 1 + 32 / 427, 'CDMS', transform=ax1.transAxes, ha='center', va='center',
         fontsize=27, family=title_font)

# top right: proxy cc raw
x, y = np.array(proxy_raw_pts).T
ax2.plot(x, y, 's', ms=6.8, mfc=teal, mec='black', mew=1.5, zorder=3)
x, y = np.array(proxy_fit_pts).T
ax2.plot(x, y, '-', color='#1010ff', lw=2.8, zorder=4)
style_axes(ax2, (-150, 150), np.arange(-150, 151, 50))
ax2.text(0.5, 1 + 32 / 427, 'proxy cc', transform=ax2.transAxes, ha='center', va='center',
         fontsize=27, family=title_font)

# bottom left: CDMS high passed
x, y = np.array(cdms_hp_pts).T
ax3.plot(x, y, 's', ms=4.3, mfc=purple, mec='black', mew=1.2, zorder=3)
style_axes(ax3, (-20, 25), np.arange(-20, 26, 5))
ax3.set_ylabel('high passed delay [psec]', fontsize=18.5)
ax3.yaxis.set_label_coords(-0.168, 0.5)
ax3.set_xlabel(xlabel_text, fontsize=18.5)
ax3.xaxis.set_label_coords(0.5, -0.112)

# bottom right: proxy cc high passed
x, y = np.array(proxy_hp_pts).T
ax4.plot(x, y, 's', ms=4.6, mfc=teal, mec='black', mew=1.2, zorder=3)
style_axes(ax4, (-40, 60), np.arange(-40, 61, 20))
ax4.set_xlabel(xlabel_text, fontsize=18.5)
ax4.xaxis.set_label_coords(0.5, -0.112)

fig.savefig('out.png', dpi=100)
